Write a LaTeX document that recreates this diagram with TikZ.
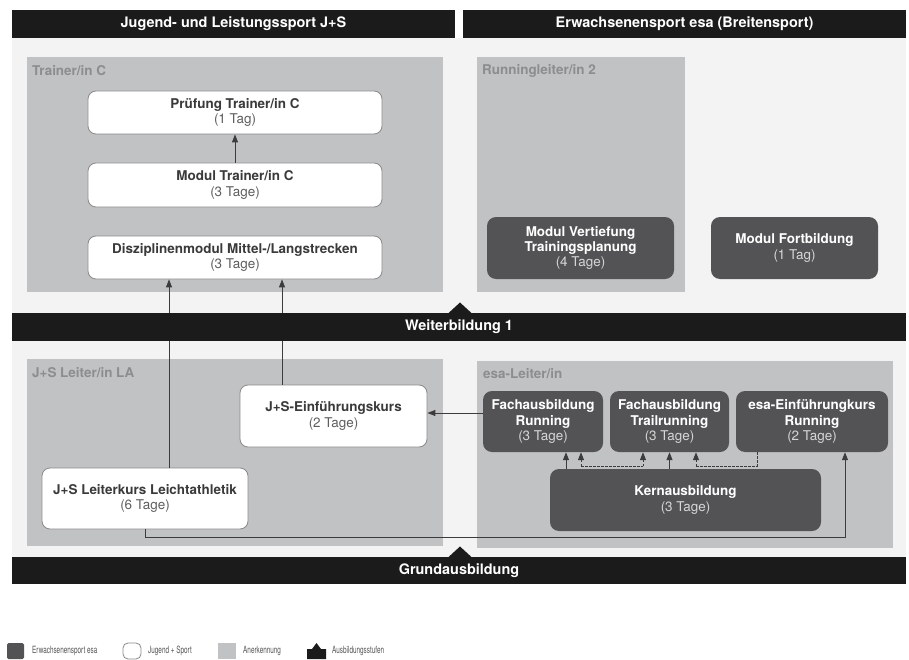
\documentclass[tikz,border=0pt]{standalone}
\usepackage{fontspec}
\setmainfont{TeX Gyre Heros}
\newfontfamily\legfont[FakeStretch=0.64]{TeX Gyre Heros}
\usetikzlibrary{arrows.meta,calc}
\definecolor{barblack}{HTML}{1B1B1B}
\definecolor{bglight}{HTML}{F3F3F3}
\definecolor{panelgray}{HTML}{C1C2C4}
\definecolor{labelgray}{HTML}{8C8D8F}
\definecolor{boxedge}{HTML}{8A8A8A}
\definecolor{titlegray}{HTML}{3A3A3A}
\definecolor{daygray}{HTML}{5E5E5E}
\definecolor{darkbox}{HTML}{535355}
\definecolor{daylight}{HTML}{D6D6D6}
\definecolor{linegray}{HTML}{3C3C3C}
\definecolor{legtext}{HTML}{555555}
\newcommand\hdrfont{\fontsize{14.5}{16}\selectfont\bfseries}
\newcommand\boxfont{\fontsize{13.5}{15.5}\selectfont}
\begin{document}
\begin{tikzpicture}[x=1bp,y=-1bp,
 hdr/.style={fill=barblack, text=white, font=\hdrfont, inner sep=0pt, minimum height=28bp},
 plabel/.style={anchor=west, text=labelgray, font=\boxfont\bfseries, inner sep=0pt},
 jsbox/.style={draw=boxedge, line width=0.8bp, fill=white, rounded corners=8bp, align=center, font=\boxfont, text=titlegray, inner sep=0pt},
 esabox/.style={fill=darkbox, rounded corners=9bp, align=center, font=\boxfont, text=white, inner sep=0pt},
 conn/.style={draw=linegray, line width=1bp},
 arr/.style={conn, -{Triangle[width=6bp,length=8bp]}},
 dotarr/.style={arr, dash pattern=on 2.5bp off 1.5bp},
 dotline/.style={conn, dash pattern=on 2.5bp off 1.5bp},
 legtxt/.style={anchor=west, inner sep=0pt, text=legtext, font=\legfont\fontsize{10}{11}\selectfont},
]
\useasboundingbox (0,0) rectangle (909,660);

% background
\fill[bglight] (12,38) rectangle (906,557);

% headers
\node[hdr, minimum width=443bp] (hl) at (233.5,24) {Jugend- und Leistungssport J+S};
\node[hdr, minimum width=443bp] (hr) at (684.5,24) {Erwachsenensport esa (Breitensport)};

% panels
\fill[panelgray] (27,57) rectangle (443,292);
\fill[panelgray] (477,57) rectangle (685,292);
\fill[panelgray] (27,359) rectangle (443,546);
\fill[panelgray] (477,361) rectangle (893,548);
\node[plabel] (ltc) at (32,71) {Trainer/in C};
\node[plabel] (lrl) at (482,71) {Runningleiter/in 2};
\node[plabel] (lla) at (32,373) {J+S Leiter/in LA};
\node[plabel] (lel) at (483,374) {esa-Leiter/in};

% J+S boxes
\node[jsbox, minimum width=294bp, minimum height=43bp] (pruef) at (235,112.5)
 {{\bfseries Prüfung Trainer/in C}\\\textcolor{daygray}{(1 Tag)}};
\node[jsbox, minimum width=294bp, minimum height=44bp] (modc) at (235,185)
 {{\bfseries Modul Trainer/in C}\\\textcolor{daygray}{(3 Tage)}};
\node[jsbox, minimum width=294bp, minimum height=43bp] (dm) at (235,257.5)
 {{\bfseries Disziplinenmodul Mittel-/Langstrecken}\\\textcolor{daygray}{(3 Tage)}};
\node[jsbox, minimum width=187bp, minimum height=62bp] (jse) at (333.5,416)
 {{\bfseries J+S-Einführungskurs}\\\textcolor{daygray}{(2 Tage)}};
\node[jsbox, minimum width=206bp, minimum height=61bp] (lk) at (145,498.5)
 {{\bfseries J+S Leiterkurs Leichtathletik}\\\textcolor{daygray}{(6 Tage)}};

% esa boxes
\node[esabox, minimum width=187bp, minimum height=62bp] (mv) at (580.5,248)
 {{\bfseries Modul Vertiefung}\\{\bfseries Trainingsplanung}\\\textcolor{daylight}{(4 Tage)}};
\node[esabox, minimum width=167bp, minimum height=62bp] (mf) at (794.5,248)
 {{\bfseries Modul Fortbildung}\\\textcolor{daylight}{(1 Tag)}};
\node[esabox, minimum width=120bp, minimum height=61bp] (far) at (543,421.5)
 {{\bfseries Fachausbildung}\\{\bfseries Running}\\\textcolor{daylight}{(3 Tage)}};
\node[esabox, minimum width=119bp, minimum height=61bp] (ftr) at (669.5,421.5)
 {{\bfseries Fachausbildung}\\{\bfseries Trailrunning}\\\textcolor{daylight}{(3 Tage)}};
\node[esabox, minimum width=152bp, minimum height=61bp] (eek) at (812,421.5)
 {{\bfseries esa-Einführungkurs}\\{\bfseries Running}\\\textcolor{daylight}{(2 Tage)}};
\node[esabox, minimum width=271bp, minimum height=62bp] (kern) at (685.5,500)
 {{\bfseries Kernausbildung}\\\textcolor{daylight}{(3 Tage)}};

% helper coordinates
\coordinate (xa) at (169,0);
\coordinate (xb) at (282,0);
\coordinate (xc) at (566,0);
\coordinate (xd) at (581,0);
\coordinate (xe) at (643,0);
\coordinate (xf) at (696,0);
\coordinate (xg) at (757,0);
\coordinate (xh) at (845,0);
\coordinate (ya) at (0,413);
\coordinate (yd) at (0,466);
\coordinate (yb) at (0,537);

% connectors
\draw[arr] (modc.north) -- (pruef.south);
\draw[arr] (lk.north -| xa) -- (dm.south -| xa);
\draw[arr] (jse.north -| xb) -- (dm.south -| xb);
\draw[arr] (far.west |- ya) -- (jse.east |- ya);
\draw[arr] (kern.north -| xc) -- (far.south -| xc);
\draw[arr] (kern.north -| ftr.south) -- (ftr.south);
\draw[dotline] (xd |- yd) -- (xe |- yd);
\draw[dotarr] (xd |- yd) -- (far.south -| xd);
\draw[dotarr] (xe |- yd) -- (ftr.south -| xe);
\draw[dotline] (eek.south -| xg) -- (xg |- yd) -- (xf |- yd);
\draw[dotarr] (xf |- yd) -- (ftr.south -| xf);
\draw[arr] (lk.south) -- (lk.south |- yb) -- (xh |- yb) -- (eek.south -| xh);

% level bars
\node[hdr, minimum width=894bp] (wb) at (459,327) {Weiterbildung 1};
\fill[barblack] (448,313.5) -- (460,302.5) -- (472,313.5) -- cycle;
\node[hdr, minimum width=894bp, minimum height=27bp] (ga) at (459,570.5) {Grundausbildung};
\fill[barblack] (448,557.5) -- (460,546.5) -- (472,557.5) -- cycle;

% legend
\fill[darkbox, rounded corners=1.5bp] (7,643) rectangle (24,659);
\node[legtxt] (l1) at (32,651) {Erwachsenensport esa};
\draw[boxedge, fill=white, line width=0.8bp, rounded corners=5bp] (123,643) rectangle (141,659);
\node[legtxt] (l2) at (148,651) {Jugend + Sport};
\fill[panelgray] (218,643) rectangle (236,659);
\node[legtxt] (l3) at (243,651) {Anerkennung};
\fill[barblack] (307,659) -- (307,649) -- (312,649) -- (316.5,643) -- (321,649) -- (326,649) -- (326,659) -- cycle;
\node[legtxt] (l4) at (332,651) {Ausbildungsstufen};
\end{tikzpicture}
\end{document}
